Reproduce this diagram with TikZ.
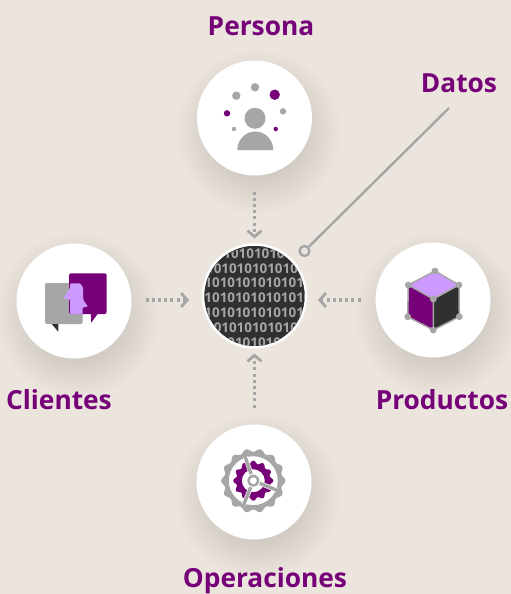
\documentclass[tikz,border=0pt]{standalone}
\usepackage{fontspec}
\setmainfont{Open Sans}
\usetikzlibrary{arrows.meta}
\definecolor{bgc}{RGB}{235,229,222}
\definecolor{purp}{RGB}{117,0,120}
\definecolor{lilac}{RGB}{204,153,255}
\definecolor{grayi}{RGB}{166,166,166}
\definecolor{darki}{RGB}{48,48,48}
\tikzset{
  bubble/.style={circle,fill=white,minimum size=115pt,inner sep=0pt,outer sep=0pt},
  core/.style={circle,fill=darki,draw=white!93!bgc,line width=2.5pt,minimum size=103pt,inner sep=0pt,outer sep=0pt},
  lbl/.style={text=purp,font=\fontsize{26.3}{28}\selectfont\bfseries,inner sep=0pt},
  flow/.style={draw=grayi,line width=3.2pt,dash pattern=on 3pt off 3.2pt,
    -{Straight Barb[length=6pt,width=14pt,line width=2.8pt]}},
  dotg/.style={fill=grayi},
  dotp/.style={fill=purp},
  bits/.style={text=grayi,font=\fontsize{13.4}{14}\selectfont\bfseries,inner sep=0pt},
}
\newcommand{\softshadow}[2]{%
  \foreach \r in {46,49,...,82}{\fill[black,opacity=0.0085] (#1+4,#2+14) circle[radius=\r];}}
\begin{document}
\begin{tikzpicture}[x=1pt,y=-1pt]
\useasboundingbox (0,0) rectangle (511,594);
\fill[bgc] (0,0) rectangle (511,594);
\softshadow{254.5}{118}
\softshadow{74}{301}
\softshadow{433}{300}
\softshadow{254}{482}
\node[bubble] (persona) at (254.5,118) {};
\node[bubble] (clientes) at (74,301) {};
\node[bubble] (productos) at (433,300) {};
\node[bubble] (operaciones) at (254,482) {};
\node[core] (datos) at (254.5,296) {};
\begin{scope}
\clip (254.5,296) circle[radius=50];
\foreach \yy/\xx/\s in {
  253.5/254/0101010101,
  268.3/252/01010101010101,
  283.2/258/10101010101010,
  298.1/258/10101010101010,
  312.8/258/10101010101010,
  327.5/252/01010101010101,
  342.6/258/10101010101010}
  \node[bits] at (\xx,\yy) {\s};
\end{scope}
% labels
\node[lbl] (lp) at (261,26) {Persona};
\node[lbl] (ld) at (459,83) {Datos};
\node[lbl] (lc) at (59,400) {Clientes};
\node[lbl] (lr) at (442,400) {Productos};
\node[lbl] (lo) at (265,581) {Operaciones};
% connectors
\coordinate (cl) at (203,300);
\coordinate (cr) at (306,300);
\draw[flow,shorten <=16pt,shorten >=6pt] (persona.south -| datos) -- (datos.north);
\draw[flow,shorten <=17pt,shorten >=6pt] (operaciones.north -| datos) -- (datos.south);
\draw[flow,shorten <=14pt,shorten >=14pt] (clientes.east |- cl) -- (cl);
\draw[flow,shorten <=15pt,shorten >=12pt] (productos.west |- cr) -- (cr);
\node[circle,draw=grayi,line width=2.4pt,minimum size=10pt,inner sep=0pt,outer sep=0pt] (ring) at (304.5,251) {};
\coordinate (lineend) at (449,108);
\draw[grayi,line width=2.4pt] (ring) -- (lineend);
% persona icon
\fill[dotg] (255,118.3) circle[radius=10.5];
\fill[dotg] (237.3,150) arc[start angle=180,end angle=360,x radius=18,y radius=18.5] -- cycle;
\fill[dotg] (236.3,95.7) circle[radius=4.2];
\fill[dotg] (255,87.3) circle[radius=4.2];
\fill[dotp] (274.7,94.7) circle[radius=5.2];
\fill[dotg] (283,111.3) circle[radius=3.2];
\fill[dotp] (275.7,129) circle[radius=2.2];
\fill[dotg] (234,129) circle[radius=2.2];
\fill[dotp] (227,113.3) circle[radius=3.2];
% clientes icon
\fill[grayi,rounded corners=2pt] (45,283) rectangle (82.7,324);
\fill[darki] (51.7,324) -- (58.3,331.7) -- (58.3,324) -- cycle;
\fill[purp,rounded corners=2pt] (69,273.3) rectangle (106.7,314);
\fill[purp] (90.7,313) -- (91.3,322.7) -- (98.3,313) -- cycle;
\fill[lilac,rounded corners=1pt] (70,283.3) -- (80,283.3) -- (83,287) -- (83.3,300) -- (88,306.7) -- (82.7,307.3) -- (82.7,314.3) -- (70,314.3) -- (70,299.3) -- (63.3,298.7) -- (70,288) -- cycle;
% productos icon
\coordinate (pt) at (435,271);
\coordinate (pl) at (408.3,285);
\coordinate (pr) at (459,285);
\coordinate (pc) at (433.3,299);
\coordinate (pll) at (407.7,316.7);
\coordinate (prl) at (459.3,316.7);
\coordinate (pb) at (433.3,330);
\fill[lilac] (pt) -- (pr) -- (pc) -- (pl) -- cycle;
\fill[purp] (pl) -- (pc) -- (pb) -- (pll) -- cycle;
\fill[darki] (pc) -- (pr) -- (prl) -- (pb) -- cycle;
\draw[grayi,line width=1.5pt,line join=round] (pt) -- (pr) -- (prl) -- (pb) -- (pll) -- (pl) -- cycle (pl) -- (pc) -- (pr) (pc) -- (pb);
\foreach \p in {pt,pl,pr,pc,pll,prl,pb} \fill[grayi] (\p) circle[radius=3.4];
% operaciones icon
\begin{scope}[shift={(253.3,480.7)}]
\fill[grayi,even odd rule] plot[domain=0:360,samples=240,smooth] ({(30.5+1.6*cos(14*\x))*cos(\x)},{(30.5+1.6*cos(14*\x))*sin(\x)}) -- cycle
  (0,0) circle[radius=24.5];
\fill[purp,even odd rule] plot[domain=0:360,samples=240,smooth] ({(18.5+1.5*cos(12*\x))*cos(\x)},{(18.5+1.5*cos(12*\x))*sin(\x)}) -- cycle
  (0,0) circle[radius=11.5];
\draw[white,line width=4.6pt] (-8,-24) -- (0,0) (24,9.5) -- (0,0) (-9.5,24) -- (0,0);
\draw[grayi,line width=3.4pt] (-8.5,-25) -- (0,0) (25,10) -- (0,0) (-10,25) -- (0,0);
\fill[white] (0,0) circle[radius=7];
\fill[grayi] (0,0) circle[radius=6];
\fill[white] (0,0) circle[radius=3.4];
\end{scope}
\end{tikzpicture}
\end{document}
